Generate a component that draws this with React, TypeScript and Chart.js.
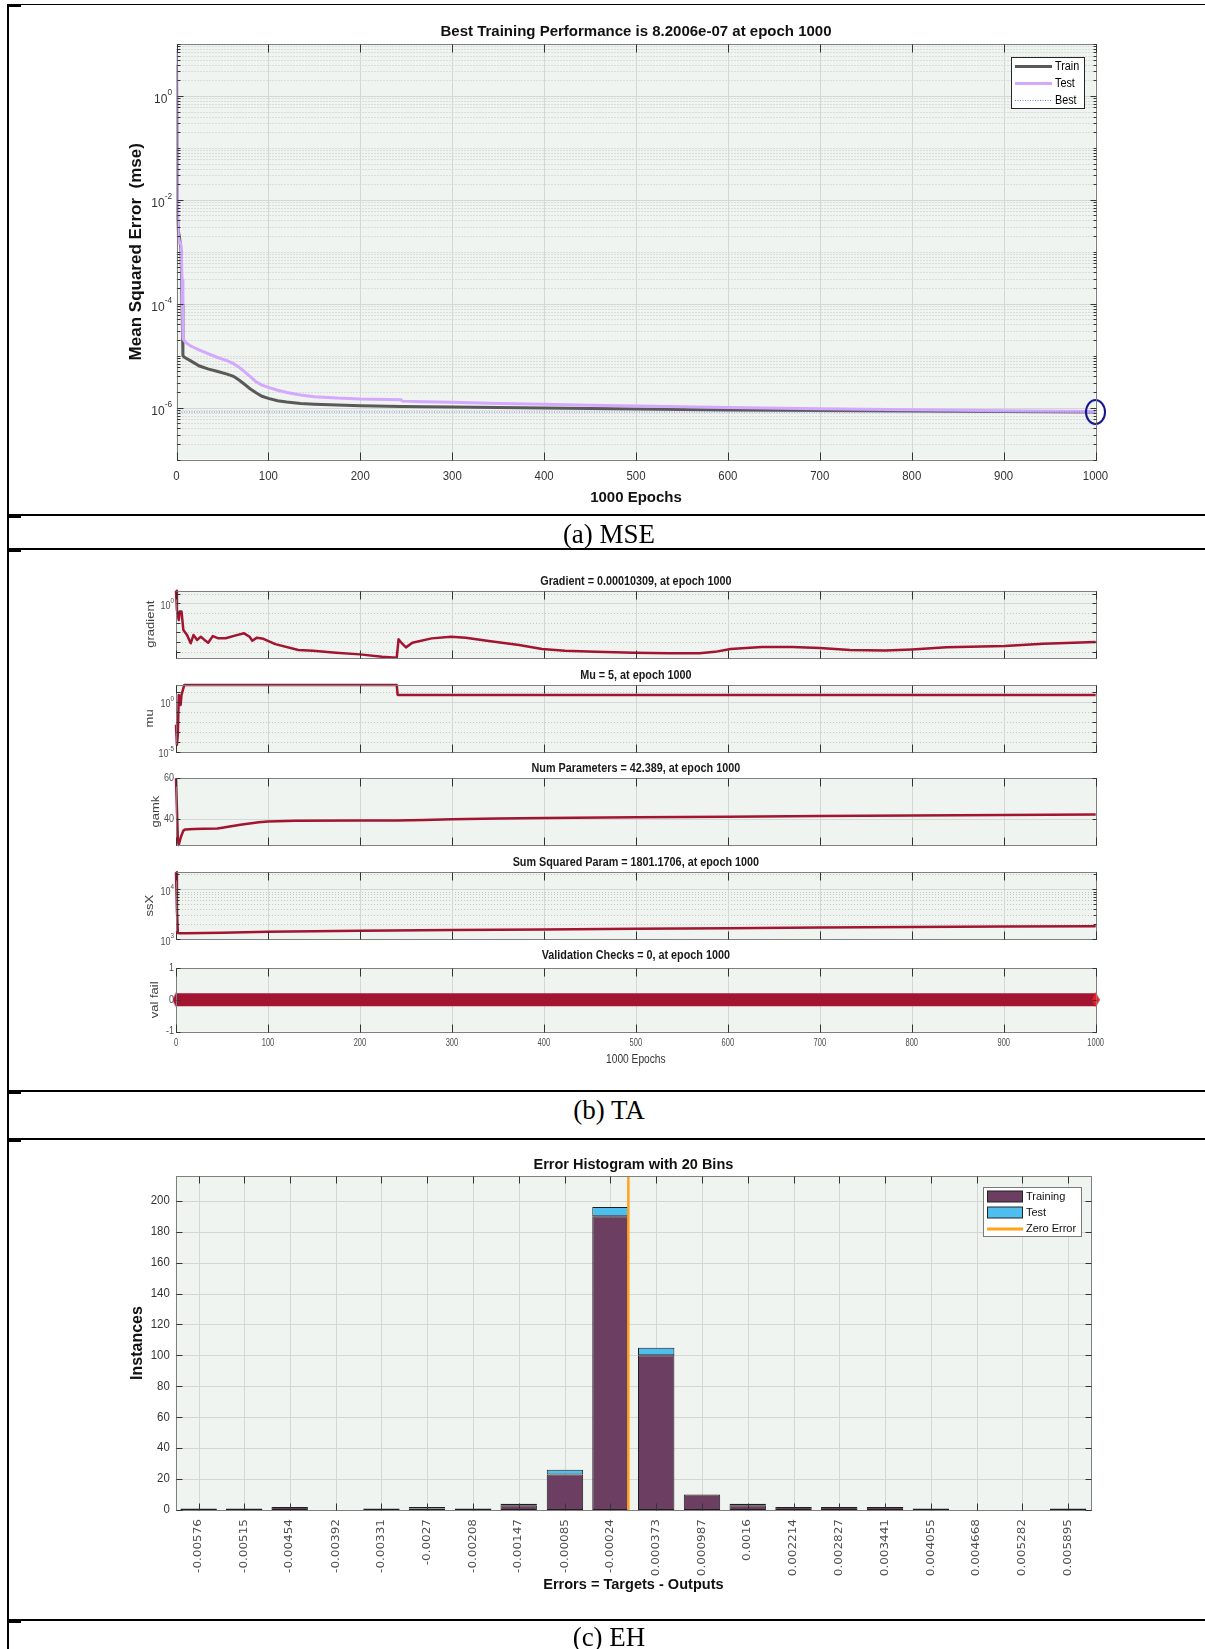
import React, { useEffect, useRef } from 'react';
import { Chart, registerables } from 'chart.js';

Chart.register(...registerables);

const SANS = "'Liberation Sans', Arial, Helvetica, sans-serif";
const DEJAVU = "'DejaVu Sans', Verdana, sans-serif";
const SERIF = "'Liberation Serif', 'Times New Roman', Times, serif";

/* ---------------- (a) MSE performance ---------------- */
const mseTitle = 'Best Training Performance is 8.2006e-07 at epoch 1000';
const mseSeriesNames = ['Train', 'Test', 'Best'];
const mseEpochs = [0, 1, 2, 3, 4, 5, 6, 7, 8, 10, 15, 25, 35, 44, 55, 62, 68, 73, 80, 87, 93, 100, 110, 120, 135, 150, 175, 200, 230, 244, 246, 270, 300, 350, 400, 450, 500, 600, 700, 800, 900, 1000];
const mseTrain = [4, 5e-3, 2.5e-3, 2e-3, 1.5e-3, 1e-3, 1e-4, 1e-5, 9.5e-6, 9e-6, 8e-6, 6.3e-6, 5.5e-6, 5e-6, 4.4e-6, 4e-6, 3.4e-6, 2.9e-6, 2.3e-6, 1.9e-6, 1.65e-6, 1.5e-6, 1.35e-6, 1.28e-6, 1.2e-6, 1.16e-6, 1.12e-6, 1.08e-6, 1.06e-6, 1.05e-6, 1.05e-6, 1.04e-6, 1.03e-6, 1.0e-6, 9.8e-7, 9.6e-7, 9.4e-7, 9.0e-7, 8.8e-7, 8.6e-7, 8.4e-7, 8.2006e-7];
const mseTest = [8, 0.01, 2e-3, 1.6e-3, 1.5e-3, 1.3e-3, 3e-4, 2.2e-5, 2e-5, 1.8e-5, 1.55e-5, 1.28e-5, 1.08e-5, 9.3e-6, 8e-6, 7e-6, 6e-6, 5.1e-6, 4e-6, 3.1e-6, 2.7e-6, 2.45e-6, 2.15e-6, 1.95e-6, 1.75e-6, 1.62e-6, 1.52e-6, 1.46e-6, 1.43e-6, 1.41e-6, 1.33e-6, 1.3e-6, 1.26e-6, 1.2e-6, 1.16e-6, 1.11e-6, 1.07e-6, 1.0e-6, 9.5e-7, 9.1e-7, 8.7e-7, 8.4e-7];
const bestEpoch = 1000;
const bestPerf = 8.2006e-7;
const mseYMin = 1e-7;
const mseYMax = 10;
const mseYLabelExps = [0, -2, -4, -6];
const epochTicks = [0, 100, 200, 300, 400, 500, 600, 700, 800, 900, 1000];

/* ---------------- (b) training state ---------------- */
const gradTitle = 'Gradient = 0.00010309, at epoch 1000';
const gradEpochs = [0, 1, 3, 4, 6, 8, 12, 16, 19, 23, 27, 31, 35, 40, 46, 54, 64, 74, 80, 83, 88, 95, 108, 133, 149, 174, 200, 224, 240, 242, 245, 250, 257, 278, 299, 315, 340, 373, 398, 423, 456, 498, 536, 569, 586, 603, 637, 670, 700, 733, 771, 800, 838, 901, 943, 1000];
const gradValues = [20, 0.2, 0.019, 0.14, 0.14, 1.8e-3, 5.4e-4, 7.6e-5, 5.4e-4, 1.7e-4, 3.6e-4, 1.7e-4, 8.7e-5, 4.2e-4, 2.5e-4, 2.5e-4, 4.7e-4, 8.1e-4, 3.6e-4, 1.4e-4, 2.9e-4, 2.2e-4, 6.3e-5, 1.55e-5, 1.3e-5, 8.1e-6, 5.5e-6, 3.2e-6, 2.5e-6, 1.95e-4, 8.7e-5, 2.9e-5, 8.7e-5, 2.45e-4, 3.6e-4, 2.9e-4, 1.3e-4, 5e-5, 1.95e-5, 1.3e-5, 1.0e-5, 8.1e-6, 7.1e-6, 7.1e-6, 1.0e-5, 1.95e-5, 3.2e-5, 3.2e-5, 2.5e-5, 1.55e-5, 1.4e-5, 1.8e-5, 2.9e-5, 4e-5, 6.8e-5, 1.0309e-4];

const muTitle = 'Mu = 5, at epoch 1000';
const muEpochs = [0, 1, 2, 3, 5, 6, 9, 240, 241, 1000];
const muValues = [5e-3, 5e-5, 5e-4, 5, 0.5, 5, 50, 50, 5, 5];

const gamkTitle = 'Num Parameters = 42.389, at epoch 1000';
const gamkEpochs = [0, 2, 3, 5, 8, 10, 20, 30, 45, 52, 60, 70, 80, 90, 100, 130, 200, 240, 270, 300, 350, 400, 500, 600, 700, 800, 900, 1000];
const gamkValues = [60, 30, 27.5, 31, 34.5, 35.1, 35.3, 35.4, 35.5, 36, 36.6, 37.4, 38, 38.6, 38.9, 39.3, 39.4, 39.4, 39.7, 40.1, 40.4, 40.6, 41, 41.3, 41.6, 41.9, 42.1, 42.389];

const ssxTitle = 'Sum Squared Param = 1801.1706, at epoch 1000';
const ssxEpochs = [0, 1, 2, 4, 10, 50, 100, 200, 300, 400, 500, 600, 700, 800, 900, 1000];
const ssxValues = [22000, 4000, 1320, 1300, 1305, 1340, 1405, 1470, 1520, 1560, 1600, 1650, 1700, 1745, 1775, 1801.1706];

const valTitle = 'Validation Checks = 0, at epoch 1000';
const valEpochs = [0, 1000];
const valValues = [0, 0];

/* ---------------- (c) error histogram ---------------- */
const histTitle = 'Error Histogram with 20 Bins';
const histSeriesNames = ['Training', 'Test', 'Zero Error'];
const binLabels = ['-0.00576', '-0.00515', '-0.00454', '-0.00392', '-0.00331', '-0.0027', '-0.00208', '-0.00147', '-0.00085', '-0.00024', '0.000373', '0.000987', '0.0016', '0.002214', '0.002827', '0.003441', '0.004055', '0.004668', '0.005282', '0.005895'];
const trainCounts = [1, 1, 2, 0, 1, 1, 1, 3, 23, 190, 100, 10, 3, 2, 2, 2, 1, 0, 0, 1];
const testCounts = [0, 0, 0, 0, 0, 1, 0, 1, 3, 6, 5, 0, 1, 0, 0, 0, 0, 0, 0, 0];
const histYTicks = [0, 20, 40, 60, 80, 100, 120, 140, 160, 180, 200];
const histYMax = 216;
const zeroError = 0;

/* ---------------- styling ---------------- */
const PAGE_W = 1205;
const BG = '#eff4f0';
const GRID = '#d3d8d4';
const MINOR = '#c2c8c4';
const BOX = '#7f7f7f';
const TICK = '#333333';
const TRAIN_C = '#595959';
const TEST_C = '#d4a8fc';
const BEST_C = '#7a7ad8';
const CIRCLE_C = '#14148c';
const RED = '#a2142f';
const HIST_TRAIN = '#6b3e62';
const HIST_TEST = '#4dbeee';
const ZERO_C = '#ffa31a';

type TextOpt = { size: number; bold?: boolean; family?: string; color?: string; align?: CanvasTextAlign; sx?: number; rot?: boolean };

function fontOf(o: TextOpt) {
  return `${o.bold ? 'bold ' : ''}${o.size}px ${o.family || SANS}`;
}

function drawText(ctx: CanvasRenderingContext2D, s: string, x: number, y: number, o: TextOpt) {
  ctx.save();
  ctx.translate(x, y);
  if (o.rot) {
    ctx.rotate(-Math.PI / 2);
    ctx.scale(1, o.sx ?? 1);
  } else {
    ctx.scale(o.sx ?? 1, 1);
  }
  ctx.font = fontOf(o);
  ctx.fillStyle = o.color || '#000';
  ctx.textAlign = o.align || 'center';
  ctx.textBaseline = 'middle';
  ctx.fillText(s, 0, 0);
  ctx.restore();
}

function widthOf(ctx: CanvasRenderingContext2D, s: string, o: TextOpt) {
  ctx.save();
  ctx.font = fontOf(o);
  const w = ctx.measureText(s).width * (o.sx ?? 1);
  ctx.restore();
  return w;
}

// every k*10^n (k = 1..9) inside [min, max]
function logLines(min: number, max: number, ks = [1, 2, 3, 4, 5, 6, 7, 8, 9]) {
  const out: number[] = [];
  for (let e = Math.floor(Math.log10(min)); e <= Math.ceil(Math.log10(max)); e++) {
    for (const k of ks) {
      const v = k * Math.pow(10, e);
      if (v >= min * 0.999 && v <= max * 1.001) out.push(v);
    }
  }
  return out;
}

type Lab = { v: number; text: string; exp?: string };
type TitleCfg = { text: string; y: number; size: number; bold?: boolean; sx?: number; color?: string; x?: number };

interface FrameCfg {
  title?: TitleCfg;
  xGrid: number[];
  xMarks: number[];
  xMarkLen: number;
  xLabels?: Lab[];
  xLabelStyle?: TextOpt & { y: number };
  xTitle?: TitleCfg;
  yMajor: number[];
  yMinor: number[];
  yMajorLen: number;
  yMinorLen: number;
  yGridMajor: boolean;
  yGridMinor: boolean;
  yLabels: Lab[];
  yLabelStyle: TextOpt & { gap: number; expSize: number };
  yTitle?: TitleCfg & { x: number };
  legend?: (ctx: CanvasRenderingContext2D) => void;
}

// MATLAB-like axes: shaded box, grid, inward ticks, labels with superscripts
function framePlugin(cfg: FrameCfg) {
  return {
    id: 'matlabFrame',
    beforeDatasetsDraw(chart: any) {
      const { ctx, chartArea: a } = chart;
      const xs = chart.scales.x;
      const ys = chart.scales.y;
      ctx.save();
      ctx.fillStyle = BG;
      ctx.fillRect(a.left, a.top, a.right - a.left, a.bottom - a.top);
      ctx.lineWidth = 1;
      const hline = (v: number) => {
        const p = Math.round(ys.getPixelForValue(v)) + 0.5;
        if (p < a.top - 0.5 || p > a.bottom + 0.5) return;
        ctx.beginPath();
        ctx.moveTo(a.left, p);
        ctx.lineTo(a.right, p);
        ctx.stroke();
      };
      if (cfg.yGridMinor) {
        ctx.strokeStyle = MINOR;
        ctx.setLineDash([1, 2]);
        cfg.yMinor.forEach(hline);
      }
      ctx.setLineDash([]);
      ctx.strokeStyle = GRID;
      if (cfg.yGridMajor) cfg.yMajor.forEach(hline);
      cfg.xGrid.forEach((v) => {
        const p = Math.round(xs.getPixelForValue(v)) + 0.5;
        ctx.beginPath();
        ctx.moveTo(p, a.top);
        ctx.lineTo(p, a.bottom);
        ctx.stroke();
      });
      ctx.restore();
    },
    afterDatasetsDraw(chart: any) {
      const { ctx, chartArea: a } = chart;
      const xs = chart.scales.x;
      const ys = chart.scales.y;
      ctx.save();
      ctx.lineWidth = 1;
      ctx.strokeStyle = BOX;
      const L = Math.round(a.left) + 0.5;
      const T = Math.round(a.top) + 0.5;
      const R = Math.round(a.right) + 0.5;
      const B = Math.round(a.bottom) + 0.5;
      ctx.strokeRect(L, T, R - L, B - T);
      ctx.strokeStyle = TICK;
      cfg.xMarks.forEach((v) => {
        const p = Math.round(xs.getPixelForValue(v)) + 0.5;
        ctx.beginPath();
        ctx.moveTo(p, T);
        ctx.lineTo(p, T + cfg.xMarkLen);
        ctx.moveTo(p, B);
        ctx.lineTo(p, B - cfg.xMarkLen);
        ctx.stroke();
      });
      const ymark = (v: number, len: number) => {
        const p = Math.round(ys.getPixelForValue(v)) + 0.5;
        if (p < a.top - 1 || p > a.bottom + 1) return;
        ctx.beginPath();
        ctx.moveTo(L, p);
        ctx.lineTo(L + len, p);
        ctx.moveTo(R, p);
        ctx.lineTo(R - len, p);
        ctx.stroke();
      };
      cfg.yMinor.forEach((v) => ymark(v, cfg.yMinorLen));
      cfg.yMajor.forEach((v) => ymark(v, cfg.yMajorLen));

      const midX = (a.left + a.right) / 2;
      const midY = (a.top + a.bottom) / 2;
      if (cfg.title) {
        const t = cfg.title;
        drawText(ctx, t.text, t.x ?? midX, t.y, { size: t.size, bold: t.bold ?? true, sx: t.sx, color: t.color || '#111' });
      }
      if (cfg.xLabels && cfg.xLabelStyle) {
        const st = cfg.xLabelStyle;
        cfg.xLabels.forEach((l) => drawText(ctx, l.text, xs.getPixelForValue(l.v), st.y, st));
      }
      if (cfg.xTitle) {
        const t = cfg.xTitle;
        drawText(ctx, t.text, t.x ?? midX, t.y, { size: t.size, bold: t.bold, sx: t.sx, color: t.color || '#111' });
      }
      const ls = cfg.yLabelStyle;
      cfg.yLabels.forEach((l) => {
        const py = ys.getPixelForValue(l.v);
        const xr = a.left - ls.gap;
        if (l.exp) {
          const eo: TextOpt = { ...ls, size: ls.expSize, align: 'left' };
          const we = widthOf(ctx, l.exp, eo);
          drawText(ctx, l.text, xr - we, py + ls.size * 0.28, { ...ls, align: 'right' });
          drawText(ctx, l.exp, xr - we, py - ls.size * 0.25, eo);
        } else {
          drawText(ctx, l.text, xr, py, { ...ls, align: 'right' });
        }
      });
      if (cfg.yTitle) {
        const t = cfg.yTitle;
        drawText(ctx, t.text, t.x, midY, { size: t.size, bold: t.bold, sx: t.sx, color: t.color || '#111', rot: true });
      }
      if (cfg.legend) cfg.legend(ctx);
      ctx.restore();
    },
  };
}

type Area = { l: number; r: number; t: number; b: number };

function build(canvas: HTMLCanvasElement, type: any, data: any, scales: any, area: Area, top: number, height: number, frame: FrameCfg) {
  return new Chart(canvas, {
    type,
    data,
    options: {
      responsive: false,
      maintainAspectRatio: false,
      animation: false,
      events: [],
      layout: { padding: { left: area.l, right: PAGE_W - area.r, top: area.t - top, bottom: top + height - area.b } },
      plugins: { legend: { display: false }, title: { display: false }, tooltip: { enabled: false } },
      scales: { x: { ...scales.x, display: false }, y: { ...scales.y, display: false } },
    },
    plugins: [framePlugin(frame)],
  } as any);
}

const pts = (xs: number[], ys: number[]) => xs.map((x, i) => ({ x, y: ys[i] }));

function ellipseMarker(rx: number, ry: number, color: string, lw: number) {
  const c = document.createElement('canvas');
  c.width = Math.ceil(rx * 2 + lw * 2 + 2);
  c.height = Math.ceil(ry * 2 + lw * 2 + 2);
  const g = c.getContext('2d')!;
  g.strokeStyle = color;
  g.lineWidth = lw;
  g.beginPath();
  g.ellipse(c.width / 2, c.height / 2, rx, ry, 0, 0, Math.PI * 2);
  g.stroke();
  return c;
}

function diamondMarker(w: number, h: number, color: string) {
  const c = document.createElement('canvas');
  c.width = w;
  c.height = h;
  const g = c.getContext('2d')!;
  g.fillStyle = color;
  g.beginPath();
  g.moveTo(w / 2, 0);
  g.lineTo(w, h / 2);
  g.lineTo(w / 2, h);
  g.lineTo(0, h / 2);
  g.closePath();
  g.fill();
  return c;
}

/* ---------------- (a) ---------------- */
function buildMse(canvas: HTMLCanvasElement, top: number, height: number) {
  const legend = (ctx: CanvasRenderingContext2D) => {
    const x0 = 1011;
    const y0 = 57 - top;
    const w = 74;
    const h = 52;
    ctx.save();
    ctx.fillStyle = '#ffffff';
    ctx.fillRect(x0, y0, w, h);
    ctx.strokeStyle = '#262626';
    ctx.lineWidth = 1;
    ctx.strokeRect(x0 + 0.5, y0 + 0.5, w - 1, h - 1);
    const styles = [
      { color: TRAIN_C, width: 3, dash: [] as number[] },
      { color: TEST_C, width: 3, dash: [] as number[] },
      { color: BEST_C, width: 1, dash: [1, 1.5] },
    ];
    mseSeriesNames.forEach((name, i) => {
      const yy = y0 + 9.5 + i * 17;
      const s = styles[i];
      ctx.strokeStyle = s.color;
      ctx.lineWidth = s.width;
      ctx.setLineDash(s.dash);
      ctx.beginPath();
      ctx.moveTo(x0 + 4, yy);
      ctx.lineTo(x0 + 41, yy);
      ctx.stroke();
      ctx.setLineDash([]);
      drawText(ctx, name, x0 + 44, yy, { size: 12, sx: 0.9, align: 'left', color: '#000' });
    });
    ctx.restore();
  };
  const majors = mseYLabelExps.map((e) => Math.pow(10, e));
  const frame: FrameCfg = {
    title: { text: mseTitle, y: 31.5 - top, size: 15 },
    xGrid: epochTicks,
    xMarks: epochTicks,
    xMarkLen: 8,
    xLabels: epochTicks.map((v) => ({ v, text: String(v) })),
    xLabelStyle: { y: 476.5 - top, size: 13, sx: 0.88, color: '#333' },
    xTitle: { text: '1000 Epochs', y: 498 - top, size: 15, bold: true },
    yMajor: majors,
    yMinor: logLines(mseYMin, mseYMax).filter((v) => !majors.some((m) => Math.abs(m - v) / m < 1e-6)),
    yMajorLen: 6,
    yMinorLen: 3,
    yGridMajor: true,
    yGridMinor: true,
    yLabels: mseYLabelExps.map((e) => ({ v: Math.pow(10, e), text: '10', exp: String(e) })),
    yLabelStyle: { size: 13, sx: 0.92, color: '#333', gap: 4.5, expSize: 9 },
    yTitle: { text: 'Mean Squared Error  (mse)', x: 136, y: 0, size: 17, bold: true },
    legend,
  };
  const datasets = [
    {
      label: 'Best point',
      data: [{ x: bestEpoch, y: bestPerf }],
      showLine: false,
      pointStyle: ellipseMarker(9.5, 12, CIRCLE_C, 2),
      pointRadius: 12,
      clip: false,
    },
    {
      label: mseSeriesNames[2],
      data: [{ x: 0, y: bestPerf }, { x: bestEpoch, y: bestPerf }],
      borderColor: BEST_C,
      borderWidth: 1,
      borderDash: [1, 1.5],
      pointRadius: 0,
    },
    { label: mseSeriesNames[1], data: pts(mseEpochs, mseTest), borderColor: TEST_C, borderWidth: 3, pointRadius: 0, tension: 0 },
    { label: mseSeriesNames[0], data: pts(mseEpochs, mseTrain), borderColor: TRAIN_C, borderWidth: 3, pointRadius: 0, tension: 0 },
  ];
  return build(
    canvas,
    'line',
    { datasets },
    { x: { type: 'linear', min: 0, max: 1000 }, y: { type: 'logarithmic', min: mseYMin, max: mseYMax } },
    { l: 176.5, r: 1095.5, t: 44, b: 459.5 },
    top,
    height,
    frame
  );
}

/* ---------------- (b) ---------------- */
const TA_L = 176;
const TA_R = 1095.7;

function taFrame(top: number, title: string, titleY: number, yTitle: string, yTitleX: number, extra: Partial<FrameCfg>): FrameCfg {
  return {
    title: { text: title, y: titleY - top, size: 12, sx: 0.9, color: '#1a1a1a' },
    xGrid: epochTicks,
    xMarks: epochTicks,
    xMarkLen: 8,
    yMajor: [],
    yMinor: [],
    yMajorLen: 4,
    yMinorLen: 4,
    yGridMajor: true,
    yGridMinor: true,
    yLabels: [],
    yLabelStyle: { size: 10, sx: 0.9, color: '#4d4d4d', gap: 2, expSize: 7 },
    yTitle: { text: yTitle, x: yTitleX, y: 0, size: 13, sx: 0.85, color: '#404040' },
    ...extra,
  };
}

const redLine = (xs: number[], ys: number[]) => ({
  data: pts(xs, ys),
  borderColor: RED,
  borderWidth: 2.5,
  pointRadius: 0,
  tension: 0,
  borderJoinStyle: 'round',
  clip: 2,
});

function buildGrad(canvas: HTMLCanvasElement, top: number, height: number) {
  const frame = taFrame(top, gradTitle, 581.7, 'gradient', 151, {
    yMajor: [1],
    yMinor: [10, 0.1, 0.01, 1e-3, 1e-4, 1e-5],
    yLabels: [{ v: 1, text: '10', exp: '0' }],
  });
  return build(canvas, 'line', { datasets: [redLine(gradEpochs, gradValues)] },
    { x: { type: 'linear', min: 0, max: 1000 }, y: { type: 'logarithmic', min: 2.5e-6, max: 20 } },
    { l: TA_L, r: TA_R, t: 590.7, b: 657.7 }, top, height, frame);
}

function buildMu(canvas: HTMLCanvasElement, top: number, height: number) {
  const frame = taFrame(top, muTitle, 676, 'mu', 150, {
    yMajor: [1, 1e-5],
    yMinor: [10, 0.1, 0.01, 1e-3, 1e-4],
    yLabels: [{ v: 1, text: '10', exp: '0' }, { v: 1e-5, text: '10', exp: '-5' }],
  });
  return build(canvas, 'line', { datasets: [redLine(muEpochs, muValues)] },
    { x: { type: 'linear', min: 0, max: 1000 }, y: { type: 'logarithmic', min: 1e-5, max: 50 } },
    { l: TA_L, r: TA_R, t: 685, b: 751.7 }, top, height, frame);
}

function buildGamk(canvas: HTMLCanvasElement, top: number, height: number) {
  const frame = taFrame(top, gamkTitle, 769, 'gamk', 156, {
    yMajor: [40, 60],
    yMinor: [],
    yGridMinor: false,
    yLabels: [{ v: 60, text: '60' }, { v: 40, text: '40' }],
  });
  return build(canvas, 'line', { datasets: [redLine(gamkEpochs, gamkValues)] },
    { x: { type: 'linear', min: 0, max: 1000 }, y: { type: 'linear', min: 27.5, max: 60 } },
    { l: TA_L, r: TA_R, t: 778.3, b: 845 }, top, height, frame);
}

function buildSsx(canvas: HTMLCanvasElement, top: number, height: number) {
  const frame = taFrame(top, ssxTitle, 862.3, 'ssX', 150, {
    yMajor: [1e3, 1e4],
    yMinor: logLines(1e3, 22000, [2, 3, 4, 5, 6, 7, 8, 9]),
    yMinorLen: 3,
    yLabels: [{ v: 1e4, text: '10', exp: '4' }, { v: 1e3, text: '10', exp: '3' }],
  });
  return build(canvas, 'line', { datasets: [redLine(ssxEpochs, ssxValues)] },
    { x: { type: 'linear', min: 0, max: 1000 }, y: { type: 'logarithmic', min: 1e3, max: 22000 } },
    { l: TA_L, r: TA_R, t: 872.3, b: 939 }, top, height, frame);
}

function buildVal(canvas: HTMLCanvasElement, top: number, height: number) {
  const frame = taFrame(top, valTitle, 956, 'val fail', 155, {
    yMajor: [-1, 0, 1],
    yMinor: [],
    yGridMajor: false,
    yGridMinor: false,
    yLabels: [{ v: 1, text: '1' }, { v: 0, text: '0' }, { v: -1, text: '-1' }],
    xLabels: epochTicks.map((v) => ({ v, text: String(v) })),
    xLabelStyle: { y: 1043.3 - top, size: 10, sx: 0.75, color: '#4d4d4d' },
    xTitle: { text: '1000 Epochs', y: 1060 - top, size: 12, bold: false, sx: 0.85, color: '#333' },
  });
  const markers = [diamondMarker(7, 15, RED), diamondMarker(8, 15, '#ec1c24')];
  return build(canvas, 'line', {
    datasets: [{
      data: pts(valEpochs, valValues),
      borderColor: RED,
      borderWidth: 13,
      borderCapStyle: 'butt',
      pointStyle: markers,
      pointRadius: 7,
      clip: false,
    }],
  },
  { x: { type: 'linear', min: 0, max: 1000 }, y: { type: 'linear', min: -1, max: 1 } },
  { l: TA_L, r: TA_R, t: 965, b: 1031.7 }, top, height, frame);
}

/* ---------------- (c) ---------------- */
function buildHist(canvas: HTMLCanvasElement, top: number, height: number) {
  const centers = binLabels.map(Number);
  const half = (centers[centers.length - 1] - centers[0]) / (centers.length - 1) / 2;
  const legend = (ctx: CanvasRenderingContext2D) => {
    const x0 = 983;
    const y0 = 1187 - top;
    const w = 99;
    const h = 50;
    ctx.save();
    ctx.fillStyle = '#ffffff';
    ctx.fillRect(x0, y0, w, h);
    ctx.strokeStyle = '#7a7a7a';
    ctx.lineWidth = 1;
    ctx.strokeRect(x0 + 0.5, y0 + 0.5, w - 1, h - 1);
    const rowsY = [y0 + 9.5, y0 + 25.5, y0 + 42];
    [HIST_TRAIN, HIST_TEST].forEach((c, i) => {
      ctx.fillStyle = c;
      ctx.fillRect(x0 + 4, rowsY[i] - 5.5, 36, 11);
      ctx.strokeStyle = '#222';
      ctx.strokeRect(x0 + 4.5, rowsY[i] - 5.5, 35, 11);
    });
    ctx.strokeStyle = ZERO_C;
    ctx.lineWidth = 3;
    ctx.beginPath();
    ctx.moveTo(x0 + 4, rowsY[2]);
    ctx.lineTo(x0 + 40, rowsY[2]);
    ctx.stroke();
    histSeriesNames.forEach((n, i) => drawText(ctx, n, x0 + 43, rowsY[i], { size: 11, align: 'left', color: '#111' }));
    ctx.restore();
  };
  const frame: FrameCfg = {
    title: { text: histTitle, y: 1165 - top, size: 14.5 },
    xGrid: centers,
    xMarks: centers,
    xMarkLen: 7,
    xLabels: centers.map((v, i) => ({ v, text: binLabels[i] })),
    xLabelStyle: { y: 1519 - top, size: 12, sx: 0.85, rot: true, align: 'right', family: DEJAVU, color: '#4d4d4d' },
    xTitle: { text: 'Errors = Targets - Outputs', y: 1585 - top, size: 15, bold: true, sx: 0.97 },
    yMajor: histYTicks,
    yMinor: [],
    yMajorLen: 6,
    yMinorLen: 0,
    yGridMajor: true,
    yGridMinor: false,
    yLabels: histYTicks.map((v) => ({ v, text: String(v) })),
    yLabelStyle: { size: 12, sx: 0.95, color: '#333', gap: 6, expSize: 8 },
    yTitle: { text: 'Instances', x: 137.5, y: 0, size: 16, bold: true },
    legend,
  };
  const bar = (counts: number[], color: string, label: string) => ({
    type: 'bar',
    label,
    data: centers.map((c, i) => ({ x: c, y: counts[i] })),
    backgroundColor: color,
    borderColor: '#1e1e1e',
    borderWidth: 1,
    borderSkipped: false,
    barPercentage: 0.8,
    categoryPercentage: 1,
  });
  const datasets = [
    bar(trainCounts, HIST_TRAIN, histSeriesNames[0]),
    bar(testCounts, HIST_TEST, histSeriesNames[1]),
    {
      type: 'line',
      label: histSeriesNames[2],
      data: [{ x: zeroError, y: 0 }, { x: zeroError, y: histYMax }],
      borderColor: ZERO_C,
      borderWidth: 2.5,
      pointRadius: 0,
      order: -1,
    },
  ];
  return build(canvas, 'bar', { datasets },
    {
      x: { type: 'linear', min: centers[0] - half, max: centers[centers.length - 1] + half, stacked: true, offset: false },
      y: { type: 'linear', min: 0, max: histYMax, stacked: true },
    },
    { l: 175.8, r: 1091, t: 1176, b: 1510 }, top, height, frame);
}

const CANVASES = [
  { top: 0, height: 515, build: buildMse },
  { top: 556, height: 112, build: buildGrad },
  { top: 668, height: 92, build: buildMu },
  { top: 760, height: 93, build: buildGamk },
  { top: 853, height: 95, build: buildSsx },
  { top: 948, height: 128, build: buildVal },
  { top: 1140, height: 479, build: buildHist },
];

const RULE_YS = [4.5, 515, 549, 1091, 1139, 1620];
const CAPTIONS = [
  { text: '(a) MSE', y: 534 },
  { text: '(b) TA', y: 1110 },
  { text: '(c) EH', y: 1637 },
];

export default function App() {
  const refs = useRef<(HTMLCanvasElement | null)[]>([]);

  useEffect(() => {
    const charts = CANVASES.map((c, i) => c.build(refs.current[i] as HTMLCanvasElement, c.top, c.height));
    return () => charts.forEach((ch) => ch.destroy());
  }, []);

  return (
    <div style={{ position: 'absolute', left: 0, top: 0, width: PAGE_W, height: 1649, background: '#fff', overflow: 'hidden' }}>
      {CANVASES.map((c, i) => (
        <canvas
          key={i}
          ref={(el) => { refs.current[i] = el; }}
          width={PAGE_W}
          height={c.height}
          style={{ position: 'absolute', left: 0, top: c.top, width: PAGE_W, height: c.height }}
        />
      ))}
      {RULE_YS.map((y, i) => (
        <React.Fragment key={`r${i}`}>
          <div style={{ position: 'absolute', left: 8, top: y - 0.8, width: PAGE_W - 8, height: 1.6, background: '#000' }} />
          <div style={{ position: 'absolute', left: 8, top: y + 0.5, width: 13, height: 2, background: '#000' }} />
        </React.Fragment>
      ))}
      <div style={{ position: 'absolute', left: 7.2, top: 4, width: 1.6, height: 1645, background: '#000' }} />
      {CAPTIONS.map((c) => (
        <div
          key={c.text}
          style={{
            position: 'absolute', left: 459, width: 300, top: c.y - 20, height: 40, lineHeight: '40px',
            textAlign: 'center', fontFamily: SERIF, fontSize: 27, color: '#000', whiteSpace: 'nowrap',
          }}
        >
          {c.text}
        </div>
      ))}
    </div>
  );
}
